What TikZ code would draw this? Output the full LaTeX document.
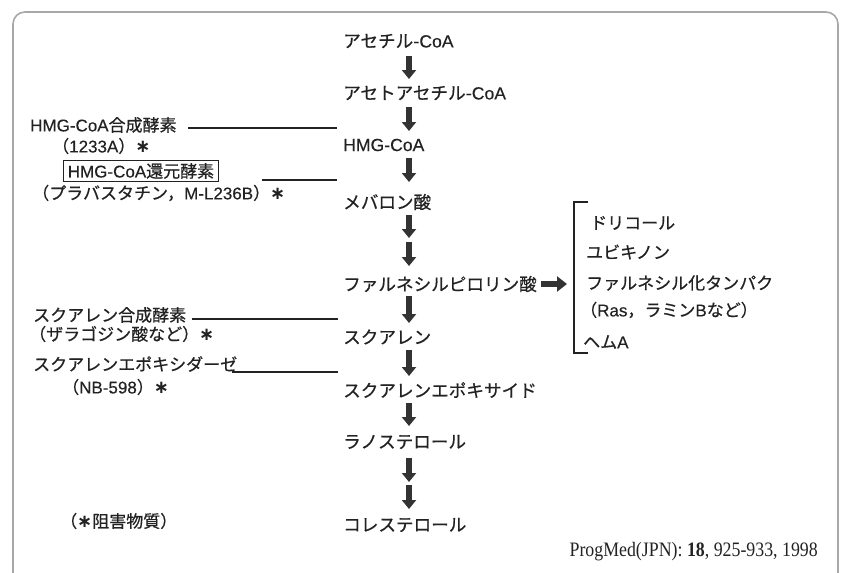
\documentclass[tikz,border=0pt]{standalone}
\usepackage{fontspec}
\setmainfont[FakeBold=0.6]{Noto Sans CJK JP}
\newfontfamily\lat[FakeBold=0.3]{Liberation Sans}
\newfontfamily\astf{DejaVu Sans}
\newfontfamily\refserif[FakeStretch=0.87]{Liberation Serif}
\newcommand{\inhib}{{\astf\bfseries\fontsize{18}{18}\selectfont ∗}}
\usetikzlibrary{arrows.meta,calc}
\definecolor{ink}{HTML}{222222}
\definecolor{arrowc}{HTML}{333333}
\definecolor{frame}{HTML}{A8A8A8}
\begin{document}
\begin{tikzpicture}[x=1pt,y=-1pt,
  txt/.style={anchor=west,inner sep=0pt,text=ink,font=\fontsize{17}{20}\selectfont},
  mtxt/.style={txt,font=\fontsize{17.6}{20}\selectfont},
  flow/.style={line width=6pt,draw=arrowc,-{Triangle[width=14pt,length=9pt]}},
  side/.style={line width=6pt,draw=arrowc,-{Triangle[width=15pt,length=10pt]}},
  ptr/.style={line width=1.3pt,draw=ink},
  brk/.style={line width=1.6pt,draw=ink},
]
\useasboundingbox (0,0) rectangle (841,573);
\clip (0,0) rectangle (841,573);
\draw[frame,line width=1.6pt,rounded corners=12pt] (13,12) rectangle (838,640);

% main column
\node[mtxt] (n1) at (343,41) {アセチル-{\lat CoA}};
\node[mtxt] (n2) at (343,93) {アセトアセチル-{\lat CoA}};
\node[mtxt] (n3) at (343,145) {{\lat HMG-CoA}};
\node[mtxt] (n4) at (343,202) {メバロン酸};
\node[mtxt] (n5) at (343,284) {ファルネシルピロリン酸};
\node[mtxt] (n6) at (343,337) {スクアレン};
\node[mtxt] (n7) at (343,390) {スクアレンエポキサイド};
\node[mtxt] (n8) at (343,442) {ラノステロール};
\node[mtxt] (n9) at (343,525) {コレステロール};

\coordinate (ax) at (409,0);
\coordinate (m1) at (409,240);
\coordinate (m2) at (409,483);

\draw[flow] ($(ax|-n1.center)+(0,15)$) -- ($(ax|-n2.center)+(0,-14)$);
\draw[flow] ($(ax|-n2.center)+(0,14)$) -- ($(ax|-n3.center)+(0,-14)$);
\draw[flow] ($(ax|-n3.center)+(0,13)$) -- ($(ax|-n4.center)+(0,-20)$);
\draw[flow] ($(ax|-n4.center)+(0,13)$) -- ($(m1)+(0,-2)$);
\draw[flow] ($(m1)+(0,2)$) -- ($(ax|-n5.center)+(0,-18)$);
\draw[flow] ($(ax|-n5.center)+(0,12)$) -- ($(ax|-n6.center)+(0,-14)$);
\draw[flow] ($(ax|-n6.center)+(0,13)$) -- ($(ax|-n7.center)+(0,-14)$);
\draw[flow] ($(ax|-n7.center)+(0,13)$) -- ($(ax|-n8.center)+(0,-16)$);
\draw[flow] ($(ax|-n8.center)+(0,16)$) -- ($(m2)+(0,-1)$);
\draw[flow] ($(m2)+(0,2)$) -- ($(ax|-n9.center)+(0,-16)$);

% branch
\coordinate (bt) at (574,202);
\coordinate (bb) at (574,353);
\draw[brk] ($(bt)+(14,0)$) -- (bt) -- (bb) -- ($(bb)+(14,0)$);
\draw[side] ($(n5.east)+(4,0)$) -- ($(bt|-n5.east)+(-7,0)$);
\node[txt] (b1) at (590,223) {ドリコール};
\node[txt] (b2) at (586,252) {ユビキノン};
\node[txt] (b3) at (586,283) {ファルネシル化タンパク};
\node[txt] (b4) at (580,310) {（{\lat Ras}，ラミン{\lat B}など）};
\node[txt] (b5) at (583,342) {ヘム{\lat A}};

% inhibitors
\node[txt] (l1) at (30,125) {{\lat HMG-CoA}合成酵素};
\node[txt] (l1b) at (52,146) {（{\lat 1233A}）\inhib};
\node[txt,anchor=center,draw=ink,line width=1.2pt,inner xsep=4pt,inner ysep=3pt] (l2) at (141,171) {{\lat HMG-CoA}還元酵素};
\node[txt] (l2b) at (32,193) {（プラバスタチン，{\lat M-L236B}）\inhib};
\node[txt] (l3) at (33,315) {スクアレン合成酵素};
\node[txt] (l3b) at (29,334) {（ザラゴジン酸など）\inhib};
\node[txt] (l4) at (33,364) {スクアレンエポキシダーゼ};
\node[txt] (l4b) at (62,387) {（{\lat NB-598}）\inhib};

\coordinate (p1a) at (188,128); \coordinate (p1b) at (337,128);
\coordinate (p2a) at (262,180); \coordinate (p2b) at (337,180);
\coordinate (p3a) at (192,319); \coordinate (p3b) at (338,319);
\coordinate (p4a) at (232,372); \coordinate (p4b) at (338,372);
\draw[ptr] (p1a) -- (p1b);
\draw[ptr] (p2a) -- (p2b);
\draw[ptr] (p3a) -- (p3b);
\draw[ptr] (p4a) -- (p4b);

\node[txt] (note) at (60,521) {（\inhib 阻害物質）};
\node[txt,anchor=east,font=\refserif\fontsize{20.5}{22}\selectfont] (src) at (818,552) {ProgMed(JPN): \textbf{18}, 925-933, 1998};
\end{tikzpicture}
\end{document}
